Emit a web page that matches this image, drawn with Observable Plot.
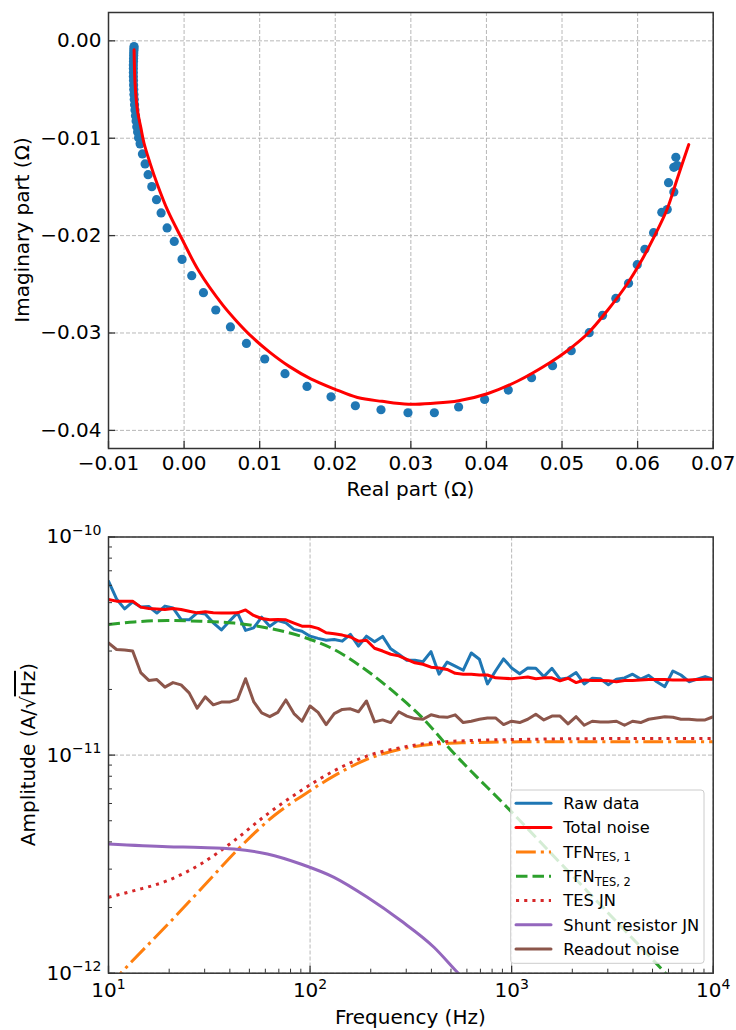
<!DOCTYPE html>
<html>
<head>
<meta charset="utf-8">
<script src="https://cdn.jsdelivr.net/npm/d3@7"></script>
<script src="https://cdn.jsdelivr.net/npm/@observablehq/plot@0.6"></script>
<style>
  html, body { margin: 0; padding: 0; background: #ffffff; }
  #chart { width: 736px; height: 1030px; }
  #chart svg { display: block; }
</style>
</head>
<body>
<div id="chart"></div>
<script>
// ---------------- TOP PANEL DATA (complex impedance) ----------------
const reTicks = [-0.01, 0.00, 0.01, 0.02, 0.03, 0.04, 0.05, 0.06, 0.07];
const reTickLabels = ["−0.01", "0.00", "0.01", "0.02", "0.03", "0.04", "0.05", "0.06", "0.07"];
const imTicks = [-0.04, -0.03, -0.02, -0.01, 0.00];
const imTickLabels = ["−0.04", "−0.03", "−0.02", "−0.01", "0.00"];

const measRe = [
  -0.00662, -0.00663, -0.00664, -0.00666, -0.00667, -0.00668, -0.00669, -0.00671, -0.00671, -0.00671,
  -0.00671, -0.00669, -0.00668, -0.00666, -0.00663, -0.00659, -0.00655, -0.00650, -0.00643, -0.00635,
  -0.00626, -0.00615, -0.00602,
  -0.00582, -0.00551, -0.00516, -0.00476, -0.00427, -0.00365, -0.00304, -0.00225, -0.00130, -0.00027,
  0.00101, 0.00256, 0.00419, 0.00613, 0.00825, 0.01067, 0.01335, 0.01626, 0.01944, 0.02266,
  0.02605, 0.02962, 0.03311, 0.03632, 0.03976, 0.04289, 0.04597, 0.04875, 0.05122, 0.05360,
  0.05536, 0.05712, 0.05880, 0.05995, 0.06096, 0.06211, 0.06320, 0.06392, 0.06409, 0.06479,
  0.06479, 0.06506, 0.06524
];
const measIm = [
  -0.00059, -0.00079, -0.00100, -0.00125, -0.00151, -0.00182, -0.00213, -0.00249, -0.00285, -0.00326,
  -0.00367, -0.00408, -0.00454, -0.00500, -0.00552, -0.00603, -0.00655, -0.00711, -0.00768, -0.00824,
  -0.00881, -0.00937, -0.00994,
  -0.01058, -0.01161, -0.01264, -0.01374, -0.01497, -0.01631, -0.01767, -0.01921, -0.02060, -0.02244,
  -0.02411, -0.02586, -0.02764, -0.02938, -0.03107, -0.03267, -0.03418, -0.03549, -0.03655, -0.03747,
  -0.03788, -0.03819, -0.03819, -0.03760, -0.03682, -0.03586, -0.03459, -0.03336, -0.03182, -0.02997,
  -0.02819, -0.02645, -0.02490, -0.02298, -0.02141, -0.01970, -0.01761, -0.01733, -0.01456, -0.01551,
  -0.01299, -0.01196, -0.01281
];
const fitRe = [
  -0.006615, -0.006483, -0.006166, -0.005729, -0.005306, -0.004526, -0.003521, -0.002172, -0.000348,
  0.001953, 0.005074, 0.006951, 0.009014, 0.011354, 0.013959, 0.016762, 0.019843, 0.022937, 0.026190,
  0.029681, 0.032987, 0.036319, 0.040114, 0.044080, 0.048483, 0.050691, 0.053336, 0.055980, 0.058624,
  0.060383, 0.062141, 0.063913, 0.065235, 0.066769
];
const fitIm = [
  -0.000925, -0.004418, -0.007159, -0.008877, -0.010490, -0.012504, -0.014774, -0.017415, -0.020251,
  -0.023641, -0.027093, -0.028789, -0.030433, -0.031984, -0.033453, -0.034707, -0.035734, -0.036628, -0.037019,
  -0.037317, -0.037214, -0.036957, -0.036238, -0.034953, -0.033001, -0.031820, -0.030104, -0.027710, -0.024967,
  -0.022747, -0.020179, -0.017261, -0.014178, -0.010654
];

// ---------------- BOTTOM PANEL DATA (noise spectra, amplitude in units of 1e-11 A/sqrt(Hz)) ----------------
const freq = [
  10, 10.96, 12.02, 13.18, 14.45, 15.85, 17.38, 19.05, 20.89, 22.91, 25.12, 27.54, 30.20, 33.11, 36.31,
  39.81, 43.65, 47.86, 52.48, 57.54, 63.10, 69.18, 75.86, 83.18, 91.20,
  100, 109.6, 120.2, 131.8, 144.5, 158.5, 173.8, 190.5, 208.9, 229.1, 251.2, 275.4, 302.0, 331.1, 363.1,
  398.1, 436.5, 478.6, 524.8, 575.4, 631.0, 691.8, 758.6, 831.8, 912.0,
  1000, 1096, 1202, 1318, 1445, 1585, 1738, 1905, 2089, 2291, 2512, 2754, 3020, 3311, 3631,
  3981, 4365, 4786, 5248, 5754, 6310, 6918, 7586, 8318, 9120, 10000
];
const rawData = [
  6.27, 5.20, 4.68, 5.04, 4.77, 4.80, 4.48, 4.82, 4.73, 4.19, 4.17, 4.49, 4.44, 4.04, 3.75,
  4.11, 4.49, 3.73, 3.83, 4.29, 3.90, 4.14, 4.04, 3.77, 3.70,
  3.51, 3.43, 3.36, 3.39, 3.33, 3.58, 3.16, 3.51, 3.31, 3.50, 3.07, 2.90, 2.72, 2.72, 2.68,
  2.98, 2.35, 2.67, 2.56, 2.45, 2.94, 2.75, 2.12, 2.43, 2.76,
  2.51, 2.36, 2.51, 2.50, 2.29, 2.50, 2.23, 2.26, 2.39, 2.12, 2.25, 2.24, 2.10, 2.23, 2.26,
  2.35, 2.23, 2.32, 2.17, 2.06, 2.43, 2.33, 2.17, 2.23, 2.29, 2.23
];
const totalNoise = [
  5.17, 5.08, 5.08, 5.08, 4.77, 4.70, 4.68, 4.65, 4.70, 4.65, 4.57, 4.49, 4.54, 4.49, 4.48,
  4.48, 4.49, 4.63, 4.37, 4.23, 4.17, 4.19, 4.17, 4.03, 3.90,
  3.90, 3.81, 3.64, 3.60, 3.55, 3.48, 3.33, 3.36, 3.09, 3.00, 2.90, 2.85, 2.75, 2.65, 2.61,
  2.53, 2.51, 2.47, 2.37, 2.35, 2.35, 2.33, 2.33, 2.26, 2.25,
  2.24, 2.26, 2.28, 2.24, 2.26, 2.26, 2.19, 2.25, 2.15, 2.21, 2.20, 2.20, 2.19, 2.17, 2.20,
  2.20, 2.21, 2.22, 2.22, 2.22, 2.21, 2.21, 2.21, 2.22, 2.23, 2.23
];
const readoutNoise = [
  3.27, 3.05, 3.03, 3.00, 2.39, 2.20, 2.22, 2.05, 2.15, 2.10, 1.93, 1.64, 1.85, 1.70, 1.75,
  1.75, 1.80, 2.24, 1.76, 1.56, 1.50, 1.57, 1.79, 1.55, 1.43,
  1.68, 1.57, 1.38, 1.55, 1.62, 1.63, 1.58, 1.77, 1.42, 1.45, 1.41, 1.58, 1.51, 1.47, 1.46,
  1.53, 1.50, 1.49, 1.53, 1.41, 1.43, 1.46, 1.48, 1.48, 1.38,
  1.43, 1.41, 1.46, 1.54, 1.45, 1.51, 1.51, 1.39, 1.50, 1.37, 1.43, 1.42, 1.42, 1.43, 1.37,
  1.43, 1.41, 1.46, 1.48, 1.50, 1.49, 1.46, 1.46, 1.45, 1.45, 1.50
];
const tfn1Freq = [10, 11.5, 20, 30, 45.3, 66.2, 97.0, 131.5, 192.4, 281.5, 411.7, 602.8, 1108, 3000, 10000];
const tfn1 = [0.087, 0.100, 0.170, 0.2535, 0.381, 0.527, 0.674, 0.803, 0.958, 1.064, 1.122, 1.140, 1.150, 1.152, 1.152];
const tfn2Freq = [10, 13.4, 19.6, 28.7, 42.0, 61.4, 89.9, 131.5, 192.4, 281.5, 353.7, 517, 988, 1749, 3095, 5801, 7000];
const tfn2 = [3.97, 4.08, 4.14, 4.11, 4.03, 3.83, 3.51, 3.05, 2.43, 1.83, 1.51, 1.02, 0.555, 0.319, 0.184, 0.100, 0.083];
const tesJNFreq = [10, 13.4, 19.6, 28.7, 42.0, 61.4, 89.9, 131.5, 192.4, 281.5, 411.7, 602.8, 1108, 3000, 10000];
const tesJN = [0.2228, 0.239, 0.2656, 0.3167, 0.405, 0.5365, 0.686, 0.847, 0.9916, 1.082, 1.141, 1.165, 1.180, 1.190, 1.190];
const shuntFreq = [10, 19.6, 28.7, 42.0, 61.4, 89.9, 131.5, 192.4, 281.5, 411.7, 527.5, 700];
const shuntJN = [0.391, 0.380, 0.3773, 0.371, 0.352, 0.3167, 0.275, 0.2228, 0.1743, 0.1315, 0.1029, 0.078];

const fTicks = [10, 100, 1000, 10000];
const fTickLabels = ["10^1", "10^2", "10^3", "10^4"];
const fMinor = [20, 30, 40, 50, 60, 70, 80, 90, 200, 300, 400, 500, 600, 700, 800, 900,
                2000, 3000, 4000, 5000, 6000, 7000, 8000, 9000];
const aTicks = [0.1, 1, 10];
const aTickLabels = ["10^−12", "10^−11", "10^−10"];
const aMinor = [0.2, 0.3, 0.4, 0.5, 0.6, 0.7, 0.8, 0.9, 2, 3, 4, 5, 6, 7, 8, 9];

const seriesNames = ["Raw data", "Total noise", "TFN_TES, 1", "TFN_TES, 2", "TES JN", "Shunt resistor JN", "Readout noise"];
const seriesColors = ["#1f77b4", "#ff0000", "#ff7f0e", "#2ca02c", "#d62728", "#9467bd", "#8c564b"];
const seriesDash = [null, null, "19.8,5,3.1,5", "11.5,5", "3.1,5.1", null, null];

// ---------------- build ----------------
const FONT = "DejaVu Sans, sans-serif";
const AXC = "#333333";
const GRID = "#b0b0b0";
const LW = 3;

const scatterTable = measRe.map((re, i) => ({re, im: measIm[i]}));
const fitTable = fitRe.map((re, i) => ({re, im: fitIm[i]}));
const tbl = (fs, vs) => fs.map((f, i) => ({f, v: vs[i]}));
const seriesTables = [
  tbl(freq, rawData), tbl(freq, totalNoise), tbl(tfn1Freq, tfn1), tbl(tfn2Freq, tfn2),
  tbl(tesJNFreq, tesJN), tbl(shuntFreq, shuntJN), tbl(freq, readoutNoise)
];
const seriesCurve = ["linear", "linear", "monotone-x", "monotone-x", "monotone-x", "monotone-x", "linear"];

const labelOf = (vals, labs) => d => labs[vals.indexOf(d)];

// top panel geometry
const T = {w: 736, h: 500, mt: 12, mb: 52, ml: 108, mr: 23.3};
const Tfw = T.w - T.ml - T.mr, Tfh = T.h - T.mt - T.mb;
const MAJ = 7, MIN = 4;

const topPlot = Plot.plot({
  width: T.w, height: T.h,
  marginTop: T.mt, marginBottom: T.mb, marginLeft: T.ml, marginRight: T.mr,
  style: {fontFamily: FONT, fontSize: "20px", color: "black", background: "white", overflow: "visible"},
  x: {domain: [-0.01, 0.07], label: null},
  y: {domain: [-0.04186, 0.00291], label: null},
  marks: [
    Plot.gridX(reTicks, {stroke: GRID, strokeOpacity: 1, strokeWidth: 0.9, strokeDasharray: "4,2"}),
    Plot.gridY(imTicks, {stroke: GRID, strokeOpacity: 1, strokeWidth: 0.9, strokeDasharray: "4,2"}),
    Plot.dot(scatterTable, {x: "re", y: "im", r: 4.6, fill: "#1f77b4", stroke: "none"}),
    Plot.line(fitTable, {x: "re", y: "im", stroke: "#ff0000", strokeWidth: 3, curve: "catmull-rom"}),
    Plot.ruleX(reTicks, {x: d => d, insetTop: Tfh - MAJ, stroke: AXC, strokeWidth: 1.3}),
    Plot.ruleY(imTicks, {y: d => d, insetRight: Tfw - MAJ, stroke: AXC, strokeWidth: 1.3}),
    Plot.frame({stroke: AXC, strokeWidth: 1.5}),
    Plot.axisX(reTicks, {label: null, tickSize: 0, tickPadding: 7, fontSize: 20, tickFormat: labelOf(reTicks, reTickLabels)}),
    Plot.axisY(imTicks, {label: null, tickSize: 0, tickPadding: 7, fontSize: 20, tickFormat: labelOf(imTicks, imTickLabels)})
  ]
});

// bottom panel geometry
const B = {w: 736, h: 530, mt: 36.5, mb: 57.3, ml: 108, mr: 23.3};
const Bfw = B.w - B.ml - B.mr, Bfh = B.h - B.mt - B.mb;

const lineMarks = seriesTables.map((t, k) => Plot.line(t, {
  x: "f", y: "v", stroke: seriesColors[k], strokeWidth: LW,
  strokeDasharray: seriesDash[k] || undefined,
  strokeLinecap: seriesDash[k] ? "butt" : "round",
  curve: seriesCurve[k], clip: true
}));

const botPlot = Plot.plot({
  width: B.w, height: B.h,
  marginTop: B.mt, marginBottom: B.mb, marginLeft: B.ml, marginRight: B.mr,
  style: {fontFamily: FONT, fontSize: "20px", color: "black", background: "white", overflow: "visible"},
  x: {type: "log", domain: [10, 10000], label: null},
  y: {type: "log", domain: [0.1, 10], label: null},
  marks: [
    Plot.gridX(fTicks, {stroke: GRID, strokeOpacity: 1, strokeWidth: 0.9, strokeDasharray: "4,2"}),
    Plot.gridY(aTicks, {stroke: GRID, strokeOpacity: 1, strokeWidth: 0.9, strokeDasharray: "4,2"}),
    ...lineMarks,
    Plot.ruleX(fTicks, {x: d => d, insetTop: Bfh - MAJ, stroke: AXC, strokeWidth: 1.3}),
    Plot.ruleX(fMinor, {x: d => d, insetTop: Bfh - MIN, stroke: AXC, strokeWidth: 1}),
    Plot.ruleY(aTicks, {y: d => d, insetRight: Bfw - MAJ, stroke: AXC, strokeWidth: 1.3}),
    Plot.ruleY(aMinor, {y: d => d, insetRight: Bfw - MIN, stroke: AXC, strokeWidth: 1}),
    Plot.frame({stroke: AXC, strokeWidth: 1.5}),
    Plot.axisX(fTicks, {label: null, tickSize: 0, tickPadding: 10, fontSize: 20, tickFormat: labelOf(fTicks, fTickLabels)}),
    Plot.axisY(aTicks, {label: null, tickSize: 0, tickPadding: 7, fontSize: 20, tickFormat: labelOf(aTicks, aTickLabels)})
  ]
});

// superscripts for "10^n" tick labels
function superscriptify(svg) {
  d3.select(svg).selectAll("text").each(function () {
    const s = this.textContent;
    const m = s.match(/^([^\^]*)\^(.+)$/);
    if (!m) return;
    const t = d3.select(this);
    t.text(null);
    t.append("tspan").text(m[1]);
    t.append("tspan").attr("dy", -8.3).attr("font-size", 14).text(m[2]);
  });
}
superscriptify(botPlot);

// axis titles
function addLabel(svg, x, y, rot, parts) {
  const t = d3.select(svg).append("text")
    .attr("transform", `translate(${x},${y})` + (rot ? ` rotate(${rot})` : ""))
    .attr("text-anchor", "middle")
    .attr("font-family", FONT).attr("font-size", 20).attr("fill", "black");
  parts.forEach(p => {
    const ts = t.append("tspan").text(p.t);
    if (p.over) ts.style("text-decoration", "overline");
  });
}
const Tcx = T.ml + Tfw / 2, Bcx = B.ml + Bfw / 2;
addLabel(topPlot, Tcx, 496, 0, [{t: "Real part (Ω)"}]);
addLabel(topPlot, 28.5, T.mt + Tfh / 2, -90, [{t: "Imaginary part (Ω)"}]);
addLabel(botPlot, Bcx, 524, 0, [{t: "Frequency (Hz)"}]);
addLabel(botPlot, 35, B.mt + Bfh / 2, -90, [{t: "Amplitude (A/√"}, {t: "Hz", over: true}, {t: ")"}]);

// legend
(function legend() {
  const g = d3.select(botPlot).append("g")
    .attr("font-family", FONT).attr("font-size", 16.3).attr("text-anchor", "start");
  const x0 = 510.7, y0 = 290, w = 193.3, h = 173.3;
  g.append("rect").attr("x", x0).attr("y", y0).attr("width", w).attr("height", h)
    .attr("rx", 3).attr("fill", "white").attr("fill-opacity", 0.8)
    .attr("stroke", "#cccccc").attr("stroke-width", 1);
  seriesNames.forEach((name, k) => {
    const cy = y0 + 13.3 + k * 24.3;
    g.append("line").attr("x1", 516).attr("x2", 551).attr("y1", cy).attr("y2", cy)
      .attr("stroke", seriesColors[k]).attr("stroke-width", LW)
      .attr("stroke-dasharray", seriesDash[k] || null)
      .attr("stroke-linecap", seriesDash[k] ? "butt" : "round");
    const t = g.append("text").attr("x", 563.3).attr("y", cy + 5.8)
      .attr("fill", "black").attr("text-anchor", "start");
    const parts = name.split("_");
    t.append("tspan").text(parts[0]);
    if (parts[1]) t.append("tspan").attr("dy", 3.6).attr("font-size", 11.4).text(parts[1]);
  });
})();

const root = document.getElementById("chart");
root.appendChild(topPlot);
root.appendChild(botPlot);
</script>
</body>
</html>
